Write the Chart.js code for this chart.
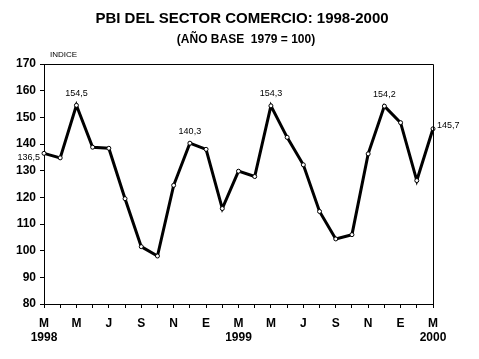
<!DOCTYPE html>
<html>
<head>
<meta charset="utf-8">
<script src="https://cdn.jsdelivr.net/npm/chart.js@4"></script>
<style>
  html, body { margin: 0; padding: 0; background: #fff; }
  #wrap { width: 479px; height: 359px; }
</style>
</head>
<body>
<div id="wrap"><canvas id="chart" width="479" height="359"></canvas></div>
<script>
// monthly index, Mar 1998 - Mar 2000
const values = [136.5, 134.8, 154.5, 138.8, 138.4, 119.5, 101.5, 98.0, 124.5, 140.3, 138.0, 115.8, 129.8,
                127.8, 154.3, 142.5, 132.2, 114.7, 104.4, 106.0, 136.3, 154.2, 148.0, 126.3, 145.7];
const monthLabels = ['M','','M','','J','','S','','N','','E','','M','','M','','J','','S','','N','','E','','M'];
const yearLabels = ['1998','','','','','','','','','','','','1999','','','','','','','','','','','','2000'];
const yTicks = [80, 90, 100, 110, 120, 130, 140, 150, 160, 170];

// which points get a value label, and where
const labelled = [
  { i: 0, pos: 'left' },
  { i: 2, pos: 'top' },
  { i: 9, pos: 'top' },
  { i: 14, pos: 'top' },
  { i: 21, pos: 'top' },
  { i: 24, pos: 'right' }
];

const FONT = '"Liberation Sans", Arial, sans-serif';

function fmt(v) {
  return v.toFixed(1).replace('.', ',');
}

const textPlugin = {
  id: 'texts',
  afterDraw(chart) {
    const ctx = chart.ctx;
    const area = chart.chartArea;
    ctx.save();
    // frame round the plot
    ctx.strokeStyle = '#000';
    ctx.lineWidth = 1;
    ctx.beginPath();
    ctx.moveTo(area.left, area.top + 0.5);
    ctx.lineTo(area.right + 0.5, area.top + 0.5);
    ctx.lineTo(area.right + 0.5, area.bottom);
    ctx.stroke();

    ctx.fillStyle = '#000';
    ctx.textAlign = 'center';
    ctx.textBaseline = 'middle';
    ctx.font = 'bold 15px ' + FONT;
    ctx.fillText('PBI DEL SECTOR COMERCIO: 1998-2000', 242, 19);
    ctx.font = 'bold 12px ' + FONT;
    ctx.fillText('(AÑO BASE  1979 = 100)', 246, 40);

    ctx.textAlign = 'left';
    ctx.font = '8px ' + FONT;
    ctx.fillText('INDICE', 50, 55);

    // value labels
    const meta = chart.getDatasetMeta(0);
    ctx.font = '9px ' + FONT;
    labelled.forEach(l => {
      const p = meta.data[l.i];
      const txt = fmt(values[l.i]);
      if (l.pos === 'top') {
        ctx.textAlign = 'center';
        ctx.fillText(txt, p.x, p.y - 12);
      } else if (l.pos === 'left') {
        ctx.textAlign = 'right';
        ctx.fillText(txt, p.x - 4, p.y + 4);
      } else {
        ctx.textAlign = 'left';
        ctx.fillText(txt, p.x + 4, p.y - 3);
      }
    });
    ctx.restore();
  }
};

new Chart(document.getElementById('chart'), {
  type: 'line',
  data: {
    labels: monthLabels,
    datasets: [{
      data: values,
      borderColor: '#000',
      borderWidth: 3,
      tension: 0,
      pointRadius: 2,
      pointBorderWidth: 1,
      pointBackgroundColor: '#fff',
      pointBorderColor: '#000'
    }]
  },
  options: {
    responsive: false,
    animation: false,
    layout: { padding: { top: 64, right: 46, left: 0, bottom: 0 } },
    plugins: { legend: { display: false }, tooltip: { enabled: false } },
    scales: {
      x: {
        offset: false,
        grid: { drawOnChartArea: false, color: '#000', tickLength: 4 },
        border: { color: '#000', width: 1 },
        afterFit: s => { s.height = 55; },
        ticks: {
          autoSkip: false,
          maxRotation: 0,
          padding: 8,
          color: '#000',
          font: { family: FONT, size: 12, weight: 'bold' },
          callback: (v, i) => yearLabels[i] ? [monthLabels[i], yearLabels[i]] : monthLabels[i]
        }
      },
      y: {
        min: yTicks[0],
        max: yTicks[yTicks.length - 1],
        afterBuildTicks: s => { s.ticks = yTicks.map(v => ({ value: v })); },
        grid: { drawOnChartArea: false, color: '#000', tickLength: 4 },
        border: { color: '#000', width: 1 },
        afterFit: s => { s.width = 44; },
        ticks: {
          padding: 4,
          color: '#000',
          font: { family: FONT, size: 12, weight: 'bold' }
        }
      }
    }
  },
  plugins: [textPlugin]
});
</script>
</body>
</html>
